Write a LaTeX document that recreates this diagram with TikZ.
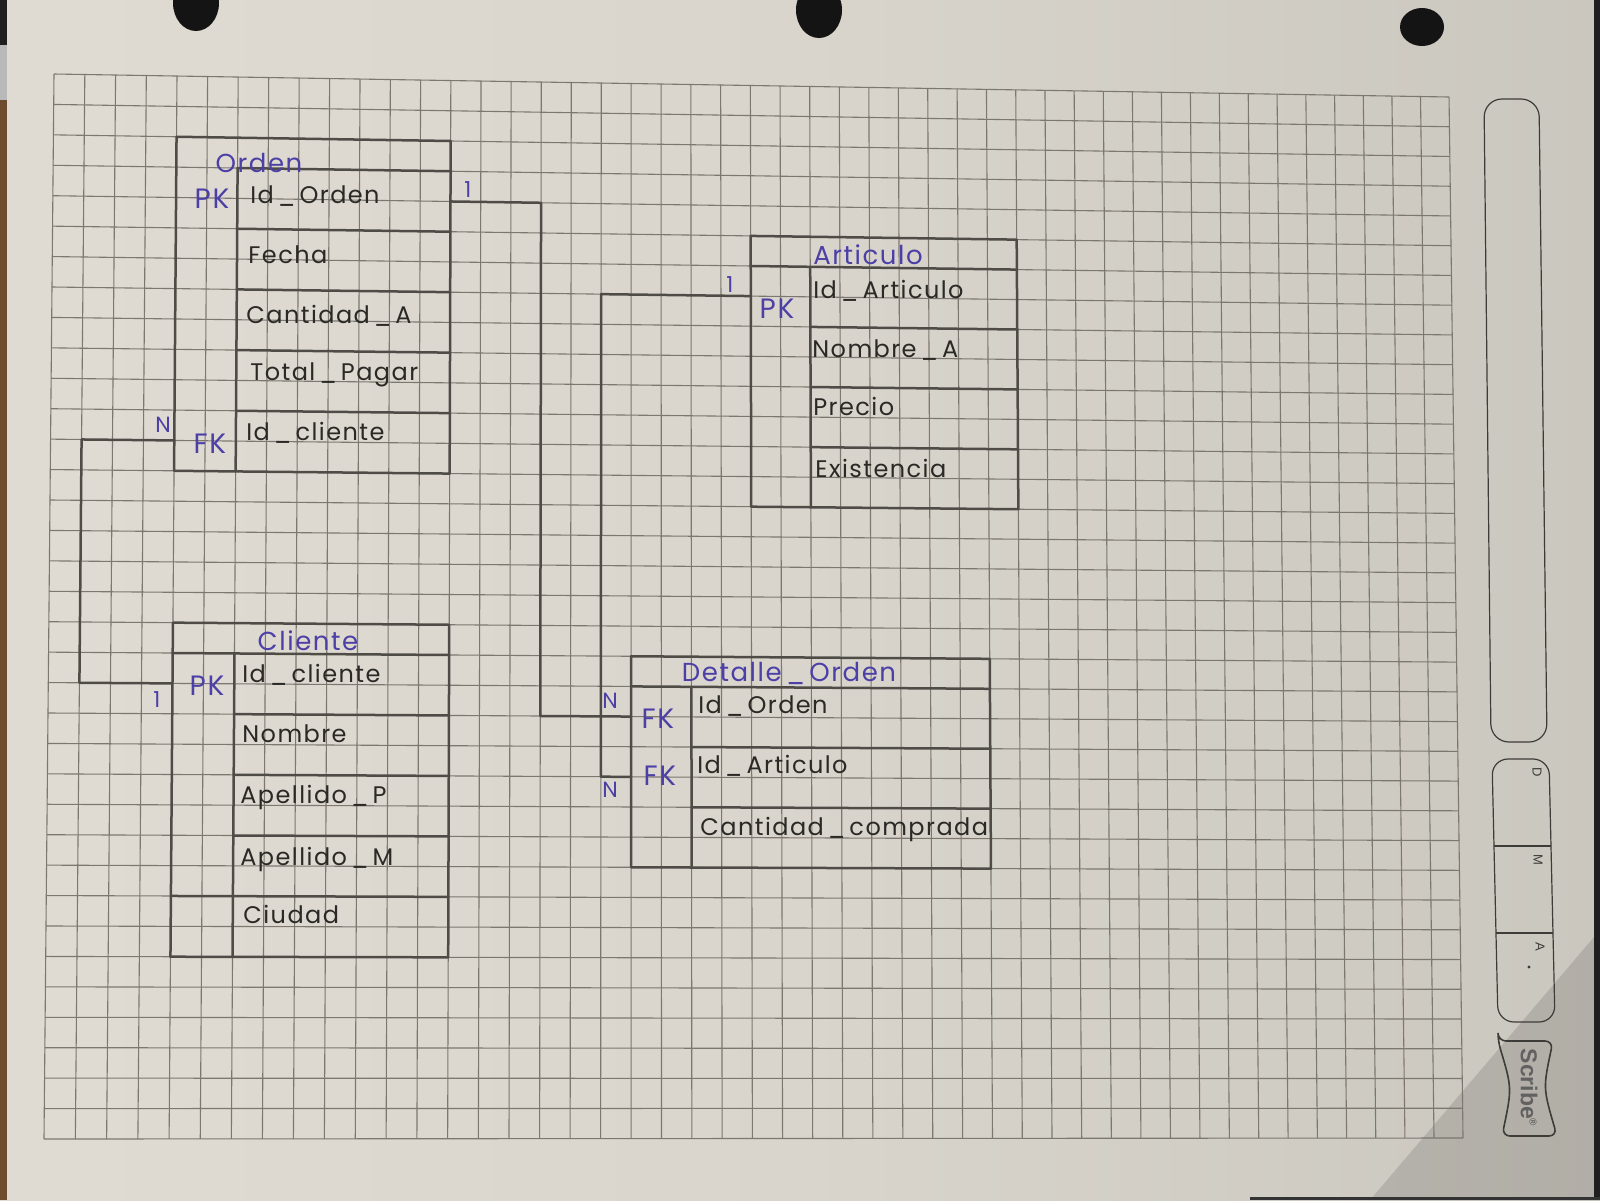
\documentclass[tikz,border=0pt]{standalone}
\usepackage{fontspec}
\usetikzlibrary{calc}
\newfontfamily\hand[LetterSpace=6]{Poppins}
\newfontfamily\logofont{Liberation Sans}

\definecolor{paperA}{HTML}{E6E2D9}
\definecolor{paperB}{HTML}{D9D5CC}
\definecolor{paperD}{HTML}{C6C3BB}
\definecolor{paperC}{HTML}{ABA8A2}
\definecolor{gridc}{HTML}{7C786F}
\definecolor{pencilc}{HTML}{4F4C47}
\definecolor{inkblue}{HTML}{4C3FA6}
\definecolor{inkdark}{HTML}{2B2926}
\definecolor{tabc}{HTML}{3E3C39}
\definecolor{woodc}{HTML}{6E4C2E}

\pgfdeclarehorizontalshading{paper}{100bp}{color(0bp)=(paperA); color(50bp)=(paperB); color(82bp)=(paperD); color(100bp)=(paperC)}

\tikzset{
  gridline/.style={draw=gridc, line width=0.55pt},
  pencil/.style={draw=pencilc, line width=1.25pt, line cap=round, line join=round},
  field/.style={anchor=base west, inner sep=0pt, text=inkdark, font=\hand\fontsize{12}{14}\selectfont},
  tabletitle/.style={anchor=base, inner sep=0pt, text=inkblue, font=\hand\fontsize{13}{15}\selectfont},
  keylabel/.style={anchor=base, inner sep=0pt, text=inkblue, font=\hand\fontsize{14}{16}\selectfont},
  card/.style={anchor=base, inner sep=0pt, text=inkblue, font=\hand\fontsize{11}{13}\selectfont},
  tabline/.style={draw=tabc, line width=0.6pt},
  tabletter/.style={inner sep=0pt, text=tabc, rotate=-90, font=\logofont\fontsize{6.5}{7}\selectfont},
  hole/.style={fill=black!92},
}

\begin{document}
\begin{tikzpicture}[x=0.5pt, y=-0.5pt]
\useasboundingbox (0,0) rectangle (1600,1200);

% sheet of paper with uneven lighting
\shade[shading=paper] (0,0) rectangle (1600,1200);
\fill[black, opacity=0.12] (1370,1200) -- (1600,930) -- (1600,1200) -- cycle;

% desk and edges around the sheet
\fill[black!88] (0,0) rectangle (7,45);
\fill[gray!55] (0,45) rectangle (7,100);
\fill[woodc] (0,100) rectangle (7,1200);
\fill[black!88] (1594,0) rectangle (1600,1200);
\fill[black!80] (1250,1197) rectangle (1600,1200);

% punched holes
\fill[hole] (196,3) ellipse [x radius=11.5pt, y radius=14pt];
\fill[hole] (819,10) ellipse [x radius=11.5pt, y radius=14pt];
\fill[hole] (1422,27) ellipse [x radius=11pt, y radius=9.5pt];

% grid points: 47 columns x 35 rows, slightly in perspective
\foreach \i in {0,...,47}{
  \foreach \j in {0,...,35}{
    \pgfmathsetmacro\u{(30.85*\i-0.02486*\i*\i)/1395}
    \pgfmathsetmacro\v{\j/35}
    \pgfmathsetmacro\px{(1-\v)*(54+\u*1395)+\v*(44+\u*1419)}
    \pgfmathsetmacro\py{(1-\v)*(74+\u*23)+\v*(1139-\u*1)}
    \coordinate (g-\i-\j) at (\px,\py);
  }
}
\foreach \i in {0,...,47} \draw[gridline] (g-\i-0) -- (g-\i-35);
\foreach \j in {0,...,35} \draw[gridline] (g-0-\j) -- (g-47-\j);

% ---- table Orden ----
\draw[pencil] (g-4-2) -- (g-13-2) -- (g-13-13) -- (g-4-13) -- cycle;
\draw[pencil] (g-6-3) -- (g-13-3);
\draw[pencil] (g-6-3) -- (g-6-13);
\foreach \r in {5,7,9,11} \draw[pencil] (g-6-\r) -- (g-13-\r);

% ---- table Articulo ----
\draw[pencil] (g-23-5) -- (g-32-5) -- (g-32-14) -- (g-23-14) -- cycle;
\draw[pencil] (g-23-6) -- (g-32-6);
\draw[pencil] (g-25-6) -- (g-25-14);
\foreach \r in {8,10,12} \draw[pencil] (g-25-\r) -- (g-32-\r);

% ---- table Cliente ----
\draw[pencil] (g-4-18) -- (g-13-18) -- (g-13-29) -- (g-4-29) -- cycle;
\draw[pencil] (g-4-19) -- (g-13-19);
\draw[pencil] (g-6-19) -- (g-6-29);
\foreach \r in {21,23,25} \draw[pencil] (g-6-\r) -- (g-13-\r);
\draw[pencil] (g-4-27) -- (g-13-27);

% ---- table Detalle_Orden ----
\draw[pencil] (g-19-19) -- (g-31-19) -- (g-31-26) -- (g-19-26) -- cycle;
\draw[pencil] (g-19-20) -- (g-31-20);
\draw[pencil] (g-21-20) -- (g-21-26);
\foreach \r in {22,24} \draw[pencil] (g-21-\r) -- (g-31-\r);

% ---- relationships ----
\draw[pencil] (g-13-4) -- (g-16-4) -- (g-16-21) -- (g-19-21);
\draw[pencil] (g-4-12) -- (g-1-12) -- (g-1-20) -- (g-4-20);
\draw[pencil] (g-23-7) -- (g-18-7) -- (g-18-23) -- (g-19-23);

% ---- texts: Orden ----
\node[tabletitle] (tOrden) at (259,172) {Orden};
\node[keylabel] (kOrdenPK) at (212,208) {PK};
\node[keylabel] (kOrdenFK) at (210,453) {FK};
\node[field] (fO1) at (250,203) {Id\,\_\,Orden};
\node[field] (fO2) at (248,263) {Fecha};
\node[field] (fO3) at (246,323) {Cantidad\,\_\,A};
\node[field] (fO4) at (250,380) {Total\,\_\,Pagar};
\node[field] (fO5) at (246,440) {Id\,\_\,cliente};
\node[card] (cO1) at (468,197) {1};
\node[card] (cON) at (163,432) {N};

% ---- texts: Cliente ----
\node[tabletitle] (tCliente) at (308,650) {Cliente};
\node[keylabel] (kClientePK) at (207,695) {PK};
\node[card] (cC1) at (157,707) {1};
\node[field] (fC1) at (242,682) {Id\,\_\,cliente};
\node[field] (fC2) at (242,742) {Nombre};
\node[field] (fC3) at (240,803) {Apellido\,\_\,P};
\node[field] (fC4) at (240,865) {Apellido\,\_\,M};
\node[field] (fC5) at (243,923) {Ciudad};

% ---- texts: Articulo ----
\node[tabletitle] (tArticulo) at (868,264) {Articulo};
\node[keylabel] (kArticuloPK) at (777,318) {PK};
\node[card] (cA1) at (730,292) {1};
\node[field] (fA1) at (813,298) {Id\,\_\,Articulo};
\node[field] (fA2) at (812,357) {Nombre\,\_\,A};
\node[field] (fA3) at (813,415) {Precio};
\node[field] (fA4) at (815,477) {Existencia};

% ---- texts: Detalle_Orden ----
\node[tabletitle] (tDetalle) at (789,681) {Detalle\,\_\,Orden};
\node[keylabel] (kDetFK1) at (658,728) {FK};
\node[keylabel] (kDetFK2) at (660,785) {FK};
\node[card] (cDN1) at (610,708) {N};
\node[card] (cDN2) at (610,797) {N};
\node[field] (fD1) at (698,713) {Id\,\_\,Orden};
\node[field] (fD2) at (697,773) {Id\,\_\,Articulo};
\node[field] (fD3) at (700,835) {Cantidad\,\_\,comprada};

% ---- printed margin of the sheet ----
\draw[tabline, rounded corners=9pt] (1484,99) -- (1539,99) -- (1547,742) -- (1491,742) -- cycle;
\draw[tabline, rounded corners=8pt] (1492,759) -- (1549,759) -- (1555,1022) -- (1498,1022) -- cycle;
\draw[tabline] (1494,846) -- (1551,846);
\draw[tabline] (1496,933) -- (1553,933);
\node[tabletter] (lD) at (1537,772) {D};
\node[tabletter] (lM) at (1538,860) {M};
\node[tabletter] (lA) at (1540,947) {A};
\fill[tabc] (1529,967) circle (0.8pt);
\draw[tabline, line width=0.8pt, rounded corners=4pt] (1498,1041) -- (1553,1041)
  .. controls (1543,1088) .. (1557,1136) -- (1502,1136)
  .. controls (1512,1088) .. (1498,1041) -- cycle;
\node[inner sep=0pt, rotate=-90, text=black!62, font=\logofont\bfseries\fontsize{11.5}{12}\selectfont] (logo) at (1529,1088) {Scribe\textsuperscript{\fontsize{5}{5}\selectfont ®}};
\end{tikzpicture}
\end{document}
